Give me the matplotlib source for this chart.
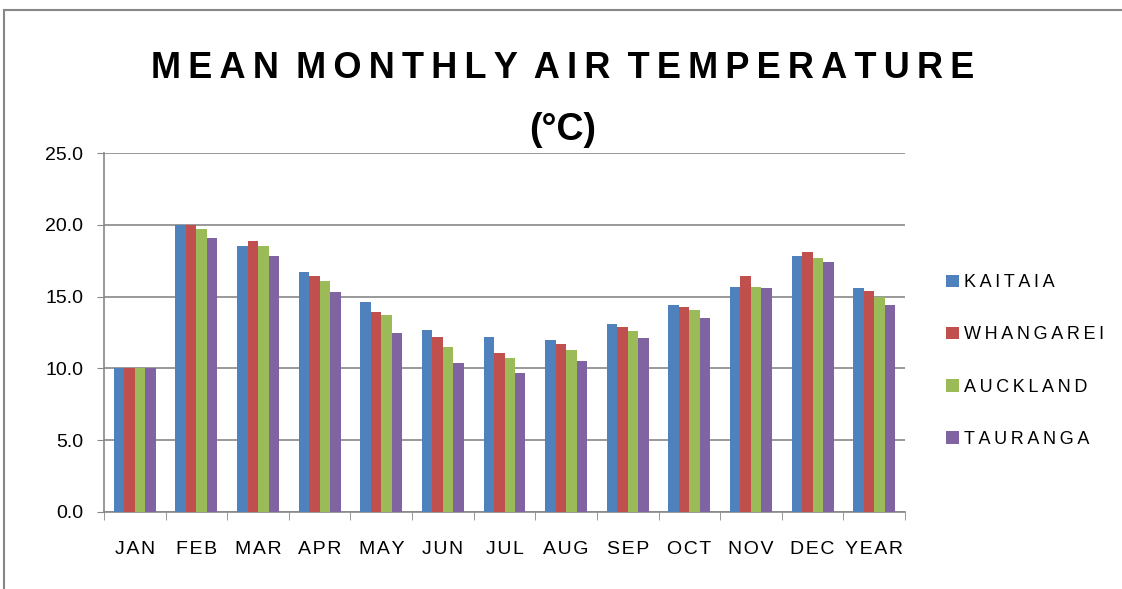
import matplotlib.pyplot as plt
import numpy as np
from matplotlib.patches import Rectangle

months = ["JAN", "FEB", "MAR", "APR", "MAY", "JUN", "JUL", "AUG", "SEP", "OCT", "NOV", "DEC", "YEAR"]
kaitaia = [10.0, 20.0, 18.5, 16.7, 14.6, 12.7, 12.2, 12.0, 13.1, 14.4, 15.7, 17.8, 15.6]
whangarei = [10.0, 20.0, 18.9, 16.4, 13.9, 12.2, 11.1, 11.7, 12.9, 14.3, 16.4, 18.1, 15.4]
auckland = [10.0, 19.7, 18.5, 16.1, 13.7, 11.5, 10.7, 11.3, 12.6, 14.1, 15.7, 17.7, 15.0]
tauranga = [10.0, 19.1, 17.8, 15.3, 12.5, 10.4, 9.7, 10.5, 12.1, 13.5, 15.6, 17.4, 14.4]

series = [("KAITAIA", kaitaia, "#4F81BD"),
          ("WHANGAREI", whangarei, "#C0504D"),
          ("AUCKLAND", auckland, "#9BBB59"),
          ("TAURANGA", tauranga, "#8064A2")]

FONT = ["Liberation Sans", "DejaVu Sans"]


def spaced(s, gap="\u200a"):
    return gap.join(s)


fig = plt.figure(figsize=(11.22, 5.89), dpi=100)
ax = fig.add_axes([104 / 1122, 1 - 512 / 589, 801 / 1122, 359 / 589])

x = np.arange(len(months))
w = 0.17
for i, (name, vals, col) in enumerate(series):
    ax.bar(x + (i - 1.5) * w, vals, w, color=col, label=spaced(name, "\u2009"), zorder=3)

ax.set_xlim(-0.5, len(months) - 0.5)
ax.set_ylim(0, 25)
ax.set_yticks(np.arange(0, 25.1, 5))
ax.set_yticklabels(["%.1f" % v for v in np.arange(0, 25.1, 5)], fontsize=14, family=FONT)
ax.set_xticks(x)
ax.set_xticklabels([spaced(m) for m in months], fontsize=14, family=FONT)
ax.set_xticks(np.arange(-0.5, len(months)), minor=True)
ax.tick_params(axis="x", which="major", length=0, pad=21)
ax.tick_params(axis="x", which="minor", length=6, color="#888888")
ax.tick_params(axis="y", length=5, color="#888888", pad=10)
ax.grid(axis="y", color="#888888", linewidth=1.2, zorder=0)
for s in ["top", "right"]:
    ax.spines[s].set_visible(False)
for s in ["left", "bottom"]:
    ax.spines[s].set_color("#888888")
    ax.spines[s].set_linewidth(1.2)

title = "\u2009 ".join(spaced(wd, "\u2009") for wd in "MEAN MONTHLY AIR TEMPERATURE".split())
fig.text(563 / 1122, 1 - 68 / 589, title, ha="center", va="center", fontsize=26,
         fontweight="bold", family=FONT)
fig.text(563 / 1122, 1 - 130 / 589, "(°C)", ha="center", va="center", fontsize=27,
         fontweight="bold", family=FONT)

leg = fig.legend(loc="upper left", bbox_to_anchor=(930 / 1122, 1 - 258 / 589), frameon=False,
                 handlelength=0.7, handleheight=0.7, handletextpad=0.3, labelspacing=1.95,
                 prop={"family": FONT, "size": 13})

fig.add_artist(Rectangle((4 / 1122, -0.1), 1.2, 1 - 10 / 589 + 0.1, transform=fig.transFigure,
                         fill=False, edgecolor="#888888", linewidth=1.5))

fig.savefig("out.png", dpi=100)
